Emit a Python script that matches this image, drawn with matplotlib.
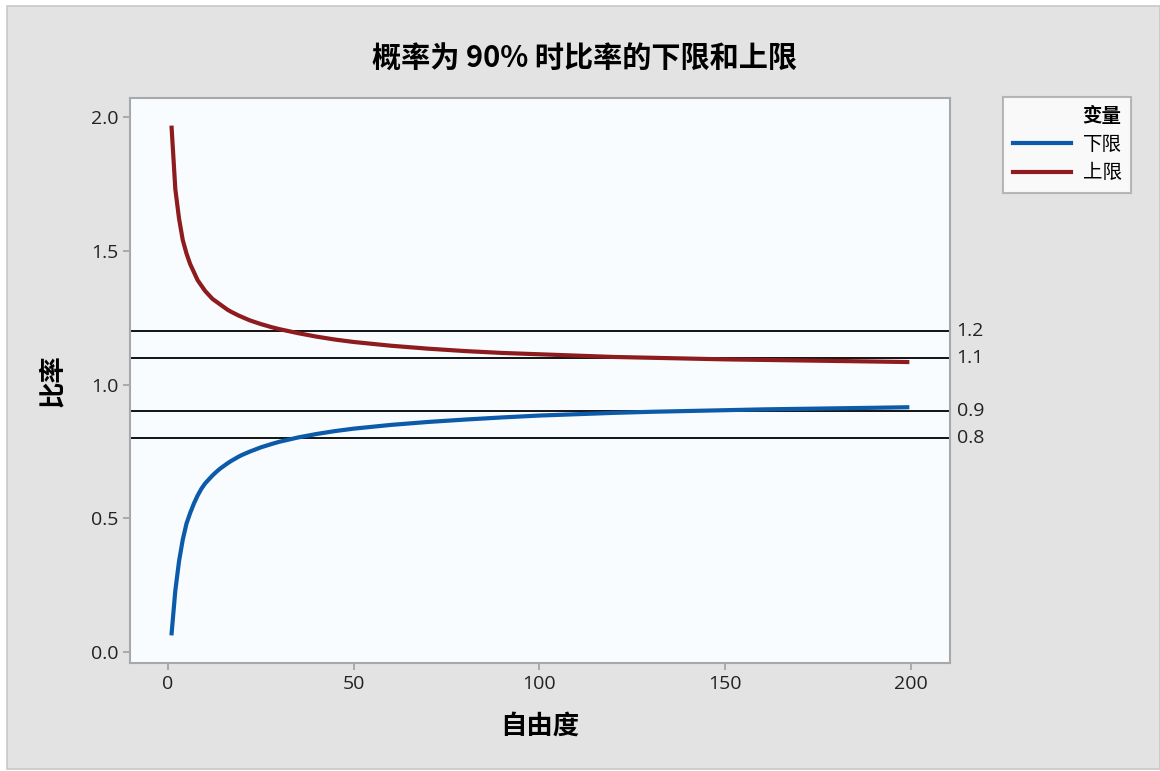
import matplotlib as mpl
mpl.use('Agg')
import matplotlib.pyplot as plt
from matplotlib.patches import Rectangle

plt.rcParams['font.family'] = ['Noto Sans CJK SC', 'DejaVu Sans']

# degrees of freedom and the bounds
dof = [1, 2, 3, 4, 5, 6, 7, 8, 9, 10, 11, 12, 13, 14, 15, 16, 17, 18, 19, 20,
       22, 25, 28, 30, 35, 40, 45, 50, 60, 70, 80, 90, 100, 110, 120, 130, 140,
       150, 160, 170, 180, 190, 199]
lower = [0.07, 0.23, 0.34, 0.42, 0.48, 0.52, 0.555, 0.585, 0.61, 0.63, 0.645,
         0.66, 0.673, 0.685, 0.695, 0.705, 0.714, 0.722, 0.73, 0.737, 0.749,
         0.765, 0.778, 0.786, 0.802, 0.815, 0.826, 0.835, 0.849, 0.86, 0.869,
         0.877, 0.884, 0.889, 0.894, 0.898, 0.901, 0.904, 0.907, 0.909, 0.911,
         0.913, 0.915]
upper = [1.96, 1.73, 1.62, 1.54, 1.49, 1.45, 1.42, 1.39, 1.37, 1.35, 1.335,
         1.32, 1.31, 1.30, 1.29, 1.28, 1.272, 1.265, 1.258, 1.252, 1.24, 1.226,
         1.214, 1.207, 1.192, 1.179, 1.168, 1.159, 1.145, 1.134, 1.125, 1.118,
         1.113, 1.108, 1.103, 1.10, 1.097, 1.094, 1.092, 1.09, 1.088, 1.086,
         1.084]
ref_lines = [1.2, 1.1, 0.9, 0.8]

num_font = 'Open Sans'

fig = plt.figure(figsize=(11.6, 7.71), dpi=100, facecolor='white')
fig.patches.append(Rectangle((0.006, 0.002), 0.994, 0.99, transform=fig.transFigure,
                             facecolor='#E3E3E3', edgecolor='#C8C8C8', lw=1.2,
                             zorder=-10))

ax = fig.add_axes([130 / 1160, 1 - 663 / 771, 820 / 1160, 565 / 771])
ax.set_facecolor('#F8FCFE')

for v in ref_lines:
    ax.axhline(v, color='black', lw=1.3, zorder=2)
    ax.text(1.008, v, str(v), transform=ax.get_yaxis_transform(), va='center',
            ha='left', fontsize=14, color='#222222', family=num_font)

ax.plot(dof, lower, color='#0B5BAA', lw=3, label='下限', zorder=3)
ax.plot(dof, upper, color='#8E1B1E', lw=3, label='上限', zorder=3)

ax.set_xlim(-10.2, 210.5)
ax.set_ylim(-0.041, 2.071)
ax.set_xticks([0, 50, 100, 150, 200])
ax.set_yticks([0.0, 0.5, 1.0, 1.5, 2.0])
ax.set_yticklabels(['0.0', '0.5', '1.0', '1.5', '2.0'])
ax.tick_params(colors='#A0A0A0', labelcolor='#222222', labelsize=14,
               length=5, width=1.2)
for lab in ax.get_xticklabels() + ax.get_yticklabels():
    lab.set_family(num_font)
for s in ax.spines.values():
    s.set_color('#A8A8A8')
    s.set_linewidth(1.5)

ax.set_xlabel('自由度', fontsize=19, fontweight='bold', labelpad=14)
ax.set_ylabel('比率', fontsize=19, fontweight='bold', labelpad=18)
fig.text(585 / 1160, 1 - 58 / 771, '概率为 90% 时比率的下限和上限', ha='center',
         va='center', fontsize=21, fontweight='bold')

leg = fig.legend(loc='upper left', bbox_to_anchor=(1003 / 1160, 1 - 97 / 771),
                 borderaxespad=0, title='变量', fontsize=14, frameon=True,
                 fancybox=False, handlelength=3.0, handletextpad=0.6,
                 borderpad=0.5, labelspacing=0.4, alignment='right')
leg.get_title().set_fontweight('bold')
leg.get_title().set_fontsize(14)
leg.get_frame().set_edgecolor('#A8A8A8')
leg.get_frame().set_linewidth(1.5)
leg.get_frame().set_facecolor('white')

fig.savefig('out.png', dpi=100, facecolor=fig.get_facecolor())
